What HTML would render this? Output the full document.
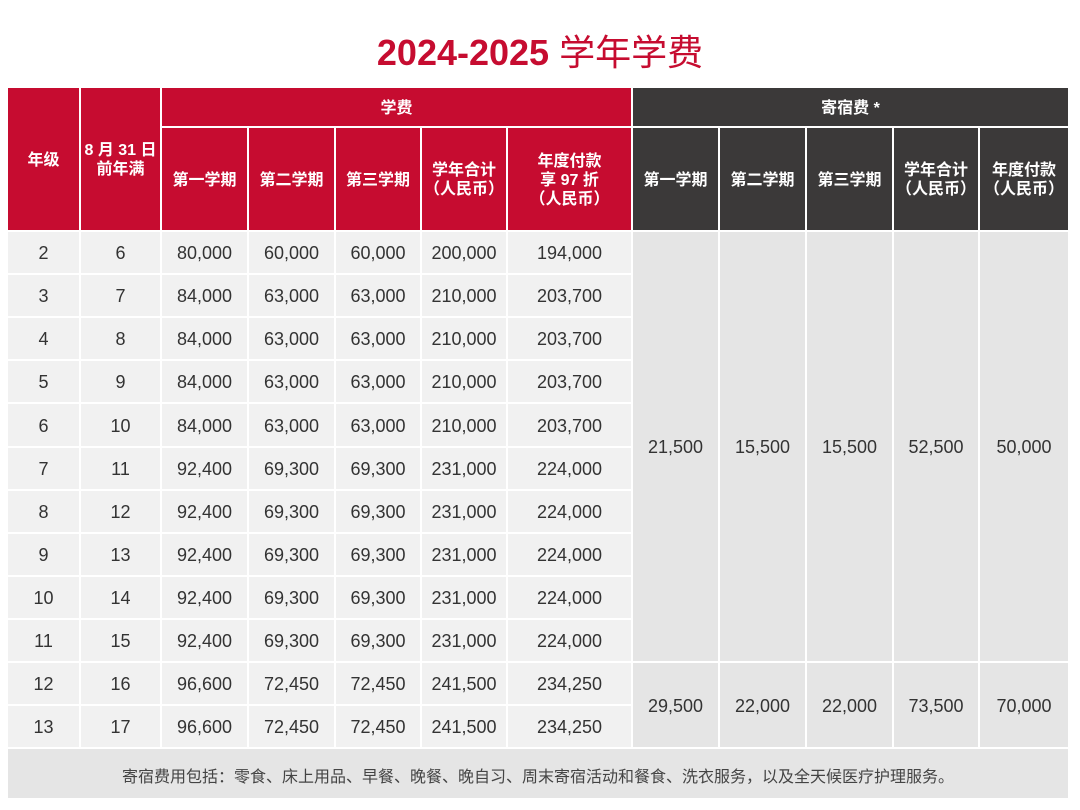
<!DOCTYPE html>
<html><head><meta charset="utf-8">
<style>
body{margin:0;width:1080px;height:810px;background:#fff;position:relative;overflow:hidden;font-family:"Liberation Sans","Noto Sans CJK SC",sans-serif;}
.c{position:absolute;box-sizing:border-box;display:flex;align-items:center;justify-content:center;text-align:center;border-right:2px solid #fff;border-bottom:2px solid #fff;padding-top:2px;}
.r{background:#c60c30;color:#fff;font-weight:bold;font-size:16px;line-height:19px;}
.d{background:#3b3939;color:#fff;font-weight:bold;font-size:16px;line-height:19px;}
.t{background:#f1f1f1;color:#333;font-size:18px;}
.b{background:#e5e5e5;color:#333;font-size:18px;}
#title{position:absolute;left:0;width:1080px;top:24px;text-align:center;color:#c60c30;font-size:36px;font-weight:bold;}
#title span{font-weight:normal;}
</style></head><body>
<div id="title">2024-2025 <span>学年学费</span></div>
<div id="tbl"></div>
<script>
const grades=["2","3","4","5","6","7","8","9","10","11","12","13"];
const ages=["6","7","8","9","10","11","12","13","14","15","16","17"];
const term1=["80,000","84,000","84,000","84,000","84,000","92,400","92,400","92,400","92,400","92,400","96,600","96,600"];
const term2=["60,000","63,000","63,000","63,000","63,000","69,300","69,300","69,300","69,300","69,300","72,450","72,450"];
const term3=["60,000","63,000","63,000","63,000","63,000","69,300","69,300","69,300","69,300","69,300","72,450","72,450"];
const total=["200,000","210,000","210,000","210,000","210,000","231,000","231,000","231,000","231,000","231,000","241,500","241,500"];
const annual=["194,000","203,700","203,700","203,700","203,700","224,000","224,000","224,000","224,000","224,000","234,250","234,250"];
const boardA=["21,500","15,500","15,500","52,500","50,000"];
const boardB=["29,500","22,000","22,000","73,500","70,000"];
const X=[8,81,162,249,336,422,508,633,720,807,894,980,1070];
const RH=43.1;
const tbl=document.getElementById('tbl');
function cell(c0,c1,y0,y1,cls,html,name){
 const e=document.createElement('div');
 e.className='c '+cls;
 e.style.left=X[c0]+'px';e.style.width=(X[c1]-X[c0])+'px';
 e.style.top=y0+'px';e.style.height=(y1-y0)+'px';
 e.innerHTML=html;
 
 
 tbl.appendChild(e);return e;
}
cell(0,1,88,232,'r','年级','header-grade');
cell(1,2,88,232,'r','8 月 31 日<br>前年满','header-age');
cell(2,7,88,128,'r','学费','header-tuition');
cell(7,12,88,128,'d','寄宿费 *','header-boarding');
const th=['第一学期','第二学期','第三学期','学年合计<br>（人民币）','年度付款<br>享 97 折<br>（人民币）'];
th.forEach((h,i)=>cell(2+i,3+i,128,232,'r',h,'header-tuition-col-'+i));
const bh=['第一学期','第二学期','第三学期','学年合计<br>（人民币）','年度付款<br>（人民币）'];
bh.forEach((h,i)=>cell(7+i,8+i,128,232,'d',h,'header-boarding-col-'+i));
const cols=[grades,ages,term1,term2,term3,total,annual];
for(let r=0;r<grades.length;r++){
 const y0=232+r*RH,y1=232+(r+1)*RH;
 cols.forEach((arr,c)=>cell(c,c+1,Math.round(y0),Math.round(y1),'t',arr[r],'cell-r'+r+'-c'+c));
}
const yA1=Math.round(232+10*RH),yEnd=Math.round(232+12*RH);
boardA.forEach((v,i)=>cell(7+i,8+i,232,yA1,'b',v,'boarding-grade2-11-col'+i));
boardB.forEach((v,i)=>cell(7+i,8+i,yA1,yEnd,'b',v,'boarding-grade12-13-col'+i));
const f=cell(0,12,yEnd,800,'b','寄宿费用包括：零食、床上用品、早餐、晚餐、晚自习、周末寄宿活动和餐食、洗衣服务，以及全天候医疗护理服务。','footnote');
f.style.fontSize='16px';f.style.color='#444';
</script>
</body></html>
